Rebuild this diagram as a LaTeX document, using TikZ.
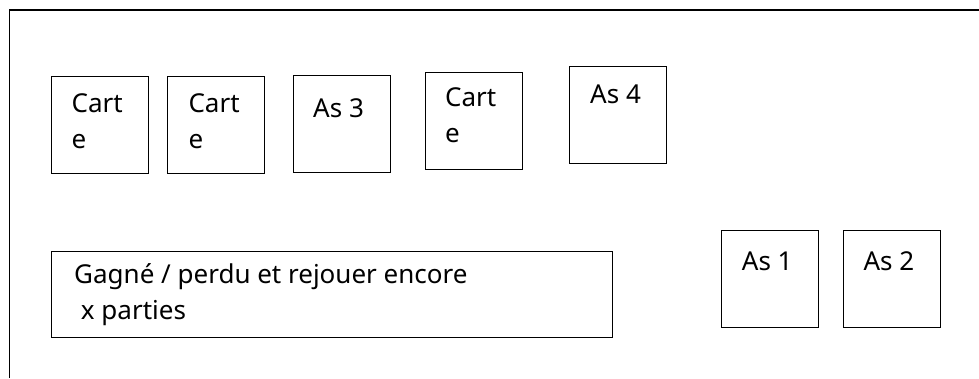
\documentclass[tikz,border=0pt]{standalone}
\usepackage{fontspec}
\setmainfont{Noto Sans}
\begin{document}
\begin{tikzpicture}[x=1pt,y=-1pt]
	\tikzset{card/.style = {shape=rectangle,draw,line width=1pt,minimum width=97pt,minimum height=97pt,anchor=north west,inner sep=0pt}}
	\tikzset{cardtext/.style = {anchor=north west,inner sep=0pt,align=left,font=\fontsize{26}{36}\selectfont}}
	\useasboundingbox (0,0) rectangle (979,378);
	\draw[line width=1.3pt] (9.5,378) -- (9.5,10) -- (979,10);
	\node[card] (carte1) at (51,75.5) {};
	\node[card] (carte2) at (166.7,75.5) {};
	\node[card] (as3) at (293.3,75.2) {};
	\node[card] (carte3) at (425,71.7) {};
	\node[card] (as4) at (569.3,65.7) {};
	\node[card] (as1) at (721,230) {};
	\node[card] (as2) at (843.3,230) {};
	\node[card,minimum width=561pt,minimum height=86pt] (score) at (50.5,250.7) {};
	\node[cardtext] (carte1txt) at (71.5,93.3) {Cart\\e};
	\node[cardtext] (carte2txt) at (188.3,93.3) {Cart\\e};
	\node[cardtext] (as3txt) at (313,98.3) {As 3};
	\node[cardtext] (carte3txt) at (445,87.7) {Cart\\e};
	\node[cardtext] (as4txt) at (590,85) {As 4};
	\node[cardtext] (as1txt) at (741.7,251.7) {As 1};
	\node[cardtext] (as2txt) at (863.3,251.7) {As 2};
	\node[cardtext] (scoretxt) at (74,263.5) {Gagné / perdu et rejouer encore\\\ x parties};
\end{tikzpicture}
\end{document}
